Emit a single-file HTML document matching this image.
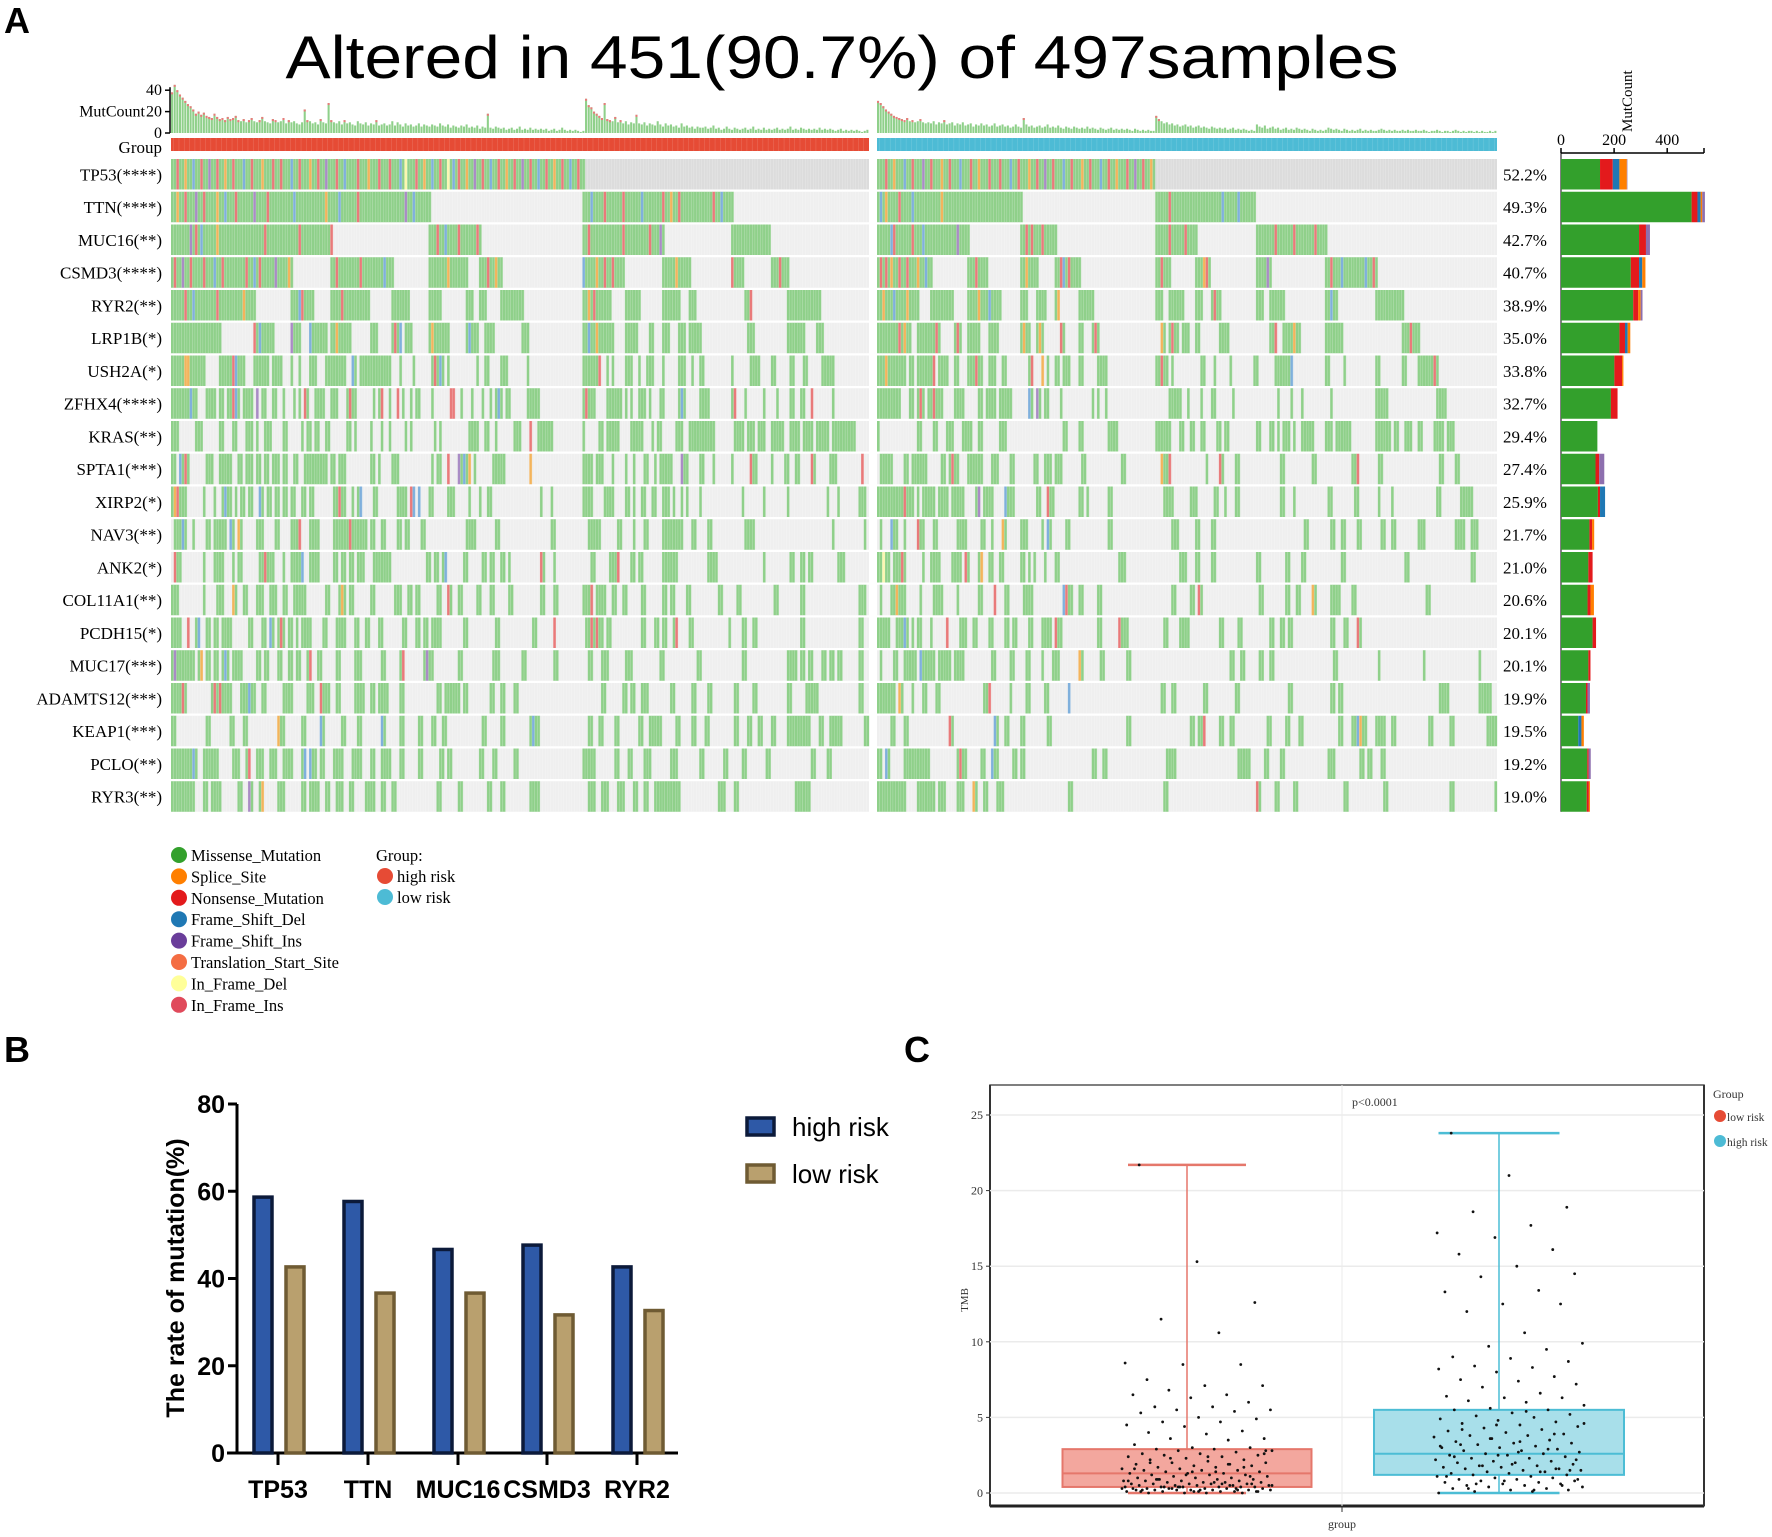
<!DOCTYPE html>
<html><head><meta charset="utf-8"><style>
html,body{margin:0;padding:0;background:#fff;}
svg{display:block;}
</style></head><body>
<svg id="fig" width="1772" height="1537" viewBox="0 0 1772 1537" xmlns="http://www.w3.org/2000/svg" font-family="Liberation Serif, serif">
<text x="4" y="33" font-family="Liberation Sans, sans-serif" font-weight="bold" font-size="36">A</text>
<text x="842" y="78" text-anchor="middle" font-family="Liberation Sans, sans-serif" font-size="60" textLength="1113" lengthAdjust="spacingAndGlyphs">Altered in 451(90.7%) of 497samples</text>
<text x="4" y="1062" font-family="Liberation Sans, sans-serif" font-weight="bold" font-size="36">B</text>
<text x="904" y="1062" font-family="Liberation Sans, sans-serif" font-weight="bold" font-size="36">C</text>
<g id="onco"></g>
<g id="barB"></g>
<g id="boxC"></g>
</svg>
<script>
// ===== Panel A data =====
const highCount = [38,45,40,36,33,30,27,25,22,18,20,17,19,16,15,14,18,15,13,14,
12,15,13,14,16,12,11,13,10,12,14,11,10,12,15,11,10,9,13,12,
10,11,14,9,12,10,11,9,8,10,22,12,11,9,10,8,13,10,9,28,
12,10,9,11,8,12,9,10,8,7,11,9,8,10,7,9,8,12,7,8,
9,7,8,11,7,10,8,6,9,7,8,6,7,9,6,8,7,6,8,7,
6,9,7,6,8,5,7,6,5,7,6,8,5,6,5,7,4,6,5,18,
5,4,6,5,4,5,3,4,5,3,4,6,3,4,3,5,3,4,3,4,
3,4,2,3,4,2,3,5,3,2,3,2,3,2,1,2,
32,26,24,20,18,16,14,28,13,12,11,15,10,12,9,11,8,10,9,17,
9,8,10,7,9,8,7,11,8,6,9,7,8,6,7,5,9,6,7,5,6,4,6,5,
5,6,4,5,7,4,5,3,4,6,4,3,5,4,3,4,5,3,4,6,3,4,3,5,3,4,3,4,5,3,
4,3,4,6,3,4,3,5,4,3,4,3,4,3,5,3,4,3,4,3,2,3,4,2,3,2,3,2,3,2,1,2,3];
const lowCount = [30,28,25,22,20,18,16,15,14,13,12,14,11,12,10,11,13,10,9,10,
9,11,8,10,9,12,8,9,10,7,9,8,10,7,8,9,6,8,7,9,
7,8,6,7,9,6,7,8,6,7,5,6,8,6,5,
14,8,6,7,5,6,7,5,6,8,5,6,5,7,5,4,6,5,4,6,5,4,5,4,6,
4,5,4,3,5,4,3,4,5,3,4,3,4,3,4,3,2,4,3,2,3,2,3,2,2,
16,13,11,9,10,8,9,7,8,6,7,8,6,7,5,6,7,5,6,5,4,6,5,4,5,
4,5,3,4,5,3,4,3,4,3,2,3,2,
8,6,5,7,4,5,6,4,5,3,4,5,3,4,3,5,4,3,4,3,2,4,3,2,3,2,3,
5,4,3,4,3,2,4,3,2,3,2,3,4,2,3,2,3,2,2,3,4,3,2,3,2,3,2,2,3,2,
3,2,2,3,2,2,3,2,1,2,2,3,2,1,2,2,1,2,3,2,1,2,1,2,2,1,2,1,2,1,1,2,1,2];
const genes = ['TP53(****)','TTN(****)','MUC16(**)','CSMD3(****)','RYR2(**)','LRP1B(*)','USH2A(*)','ZFHX4(****)','KRAS(**)','SPTA1(***)','XIRP2(*)','NAV3(**)','ANK2(*)','COL11A1(**)','PCDH15(*)','MUC17(***)','ADAMTS12(***)','KEAP1(***)','PCLO(**)','RYR3(**)'];
const pctLabels = ['52.2%','49.3%','42.7%','40.7%','38.9%','35.0%','33.8%','32.7%','29.4%','27.4%','25.9%','21.7%','21.0%','20.6%','20.1%','20.1%','19.9%','19.5%','19.2%','19.0%'];
const mutHigh = [
"0-155",
"0-97,155-211",
"0-60,97-116,155-185,211-225",
"0-45,60-83,97-111,116-124,155-170,185-195,211-215,226-232",
"0-31,45-53,60-74,83-89,97-101,111-113,116-118,124-132,155-165,171-176,185-191,195-197,216-218,232-244",
"0-18,31-38,45-48,52-58,60-67,75-77,83-86,88-90,97-104,111-115,118-121,132-134,155-166,171-175,180-181,185-187,191-193,195-199,217-219,232-238,243-245",
"0-12,18-27,31-36,38-41,45,48,52-54,58-59,60-65,68-69,71-74,75-77,78-82,86,91,98-102,104,115,118-119,124-126,134,155-161,164,166,171-173,176,179-181,185,191-193,196,199-200,211,218-221,226-227,233-234,238-239,245-249",
"0-7,8-9,13-16,18-19,21-25,27-30,32,34-35,38-39,42,46,48,50-51,54-57,60-62,66-69,76,78-79,82,85,87,90,92-93,98,105-106,109,113,117,120,122-124,126-127,134-138,155-159,164-169,171,173,176-178,180,184-185,191-193,199-202,211-212,216,223,228,233-234,237-238,241,249",
"0-2,9-11,18-19,23-24,28-30,32,35-37,42-43,49,51-52,54-55,58-59,66-67,69,75,79,82,88,90,99,101,112-115,118-119,122,129-131,135,138-143,155,161-162,164-166,167-168,173-177,181,183-184,190-192,195-196,197-199,200-204,212-215,217-219,221-223,226-230,233-236,238-241,243-247,249-257",
"0-1,3-4,5-6,13-15,18-22,25-26,28-30,32-33,35-36,38-40,42-43,46-47,50-51,52-58,60-61,63-65,75-76,78,83-85,98,100-101,104,108-112,114,121-125,135,155-158,160-162,166,171,174,178-179,182,184-186,187-188,192-194,199-200,204,211,218-220,226,231-232,235-236,241-242,248-250,260",
"0-5,12,16,19-22,24,26-27,29-30,33-34,36-37,39-40,42-43,45-46,49-50,52-53,61-65,68,70-71,76-77,85-88,90-91,93,97-98,104-106,112,116,119-120,139,143,155-158,163-166,171-172,174,177-178,181-182,185-187,189,192,194,199,215,223,232,247,251,259-261",
"1-5,8,13-14,16-17,18-20,22-23,25-26,32-34,39-40,45-48,52-53,54-55,61-62,63-64,65-67,68-73,75-76,79-80,85-86,88-89,94-95,111-114,122-123,143-144,157-161,168-169,174,178-179,185-190,191-192,196-197,202-203,216-217,218-219,249,261",
"1-3,12,16-19,23,25-26,33-34,35-38,42,45-49,52-53,54-55,61-62,64-65,67-68,70-72,76-82,96-97,99-100,102-103,110-111,117-118,120-121,124-125,127,139-140,144,158-159,165-166,167-168,173-174,176-177,185-190,202-205,223,233-234,237-238,240-241,251-253",
"0-2,12,17-19,23-24,27-28,32-34,37-39,42-43,46-50,58-59,63-65,67-68,75-76,84-86,89-90,92-93,100-101,104-105,108-109,115-116,120-121,127-128,139-140,144-145,155-158,160-163,166-167,170-171,177-178,185-186,188-189,194-195,206-207,213-214,227-228,237-238,259-261",
"0-3,6,9-10,13-14,16-17,19-22,29-30,34-35,37-38,40,41-42,44-45,47,49-50,51-52,57-58,62-65,69-70,73-74,78-79,87-88,92-93,95-96,98-99,100-101,110-111,122-123,136-137,144,156-162,164-165,177-178,182-183,185-186,189-190,195-196,210,215-216,219-220,237-238,259-260",
"0-6,7-8,10-11,13-14,16-17,19-21,23-26,32-33,35-36,40-41,44-45,47-48,51-52,55-56,62-63,69-71,79-80,86-87,95-98,108-109,121-123,132-133,144-145,157-158,162-164,171-173,184-185,198-199,215-216,232-235,237-238,240-241,245-246,248-249,251-252,259-260",
"0-5,15-17,18-22,26-27,28-31,34-35,42-45,51-53,56-57,58-59,62-63,69-70,71-72,75-76,78-79,80-81,86-87,100-101,103-104,105-108,110-111,120-121,124-125,129-130,162-163,170-171,173-174,177-179,188-189,196-197,202-203,212-213,219-220,232-233,239-243,259-260",
"0-1,13-14,22-23,27-28,40-42,49-50,56-57,64-65,70-71,79-80,86-87,93-94,98-99,102-103,117-118,124-125,135-138,157-158,161-162,167-168,176-177,180-184,190-191,196-197,201-202,212-213,217-218,221-222,226-227,232-240,244-245,248-252,261-262",
"0-5,6-7,8-9,12-17,23-25,28-29,32-34,37-39,42-45,49-50,52-54,56-57,61-64,68-71,75-76,79-80,81-82,86-87,93-94,101-102,104-105,116-117,121-122,129-130,155-159,167-168,172-173,178-180,188-190,199-200,208-209,215-216,224-225,241-242,247-248",
"0-5,6-8,12-13,15-18,25-26,29-30,33-34,40-42,49-50,52-53,54-55,58-59,62-64,67-68,73-74,75-76,79-80,83-84,100-101,108-109,119-120,124-125,135-136,137-138,157-159,162-164,168-170,174-175,178-179,182-191,206-208,212-213,235-240"];
const mutLow = [
"0-104",
"0-54,105-142",
"0-34,54-67,105-120,143-169",
"0-20,34-41,54-60,67-76,105-110,120-125,143-148,169-188",
"0-15,20-28,34-41,42-46,54-56,60-63,67-68,76-81,105-107,110-115,120-122,126-129,143-145,148-153,169-173,188-198",
"0-12,15-19,20-23,29-31,34-38,42-45,54-57,60-62,69-70,76-77,81-83,107-108,110-113,115-117,120-121,129-132,148-150,153-159,169-172,173-175,198-204",
"0-10,12-13,15-21,23-26,29-30,34-39,42-44,47-48,57-58,62,64,67-68,70-72,76-77,83-86,105-109,111,122-123,127,133,142-143,150-156,169-170,176,188-189,198-199,204-211",
"0-8,12-13,15-17,19-24,29-30,31-32,38-39,41-44,46-50,57-58,60-61,63-64,69,81,83,86,110-114,117,122,126-127,134,151,156,160,171,188-192,211-214",
"0,15-16,21-22,26-28,32-35,38-39,46,47-48,70-71,76-77,87-90,105-110,114-115,118-119,122-123,128-129,131-132,143-144,148-149,151,153-155,157,160-164,169-171,173-175,176-178,188-193,195-196,199-201,204-205,210-213,215-217",
"1-5,10-11,13-14,15-18,24-25,27-30,34-35,36-37,38-39,43-45,50-51,59-60,63-65,67-69,77-78,92-93,107-108,109-110,124,129-130,135-136,152-153,164-165,179-181,189-190,212-213,218-219",
"0-10,11-12,13,15,17,18-19,20-21,23-24,25-26,28-29,30-32,37-38,40-41,42-43,48-51,60-61,64-66,76-77,79,87-88,108-111,118-120,127-128,131,135-136,152-153,157,170-171,180-181,189,194,211-212,220-224",
"1,5-7,10,15-17,21-22,30-31,32-33,39-40,43,47-48,54-56,62,64-65,71-72,87-88,111-113,120-121,126-127,161-162,171-172,175-176,181-182,190-191,194-195,204-206,218-221,224-226",
"0-4,6-10,17,20-23,28-29,30-31,33-34,38-39,42-43,46-47,54-55,57,59,63,67-68,91-93,114-116,120-121,126-127,143-144,154-155,160-161,175-176,199-200,224-225",
"1,5-10,16,21-22,23-24,30,38-39,44,48-49,55-56,57-58,70-73,76-77,83-84,111-112,118-119,121-122,144-145,154-155,158-159,164-165,171-172,173-174,179-180,207-208",
"0-4,7-9,10-11,13,15-16,20,26,31-33,36-37,42-43,48-49,51-52,57-58,62-63,64-65,67-69,83-84,91-92,93-94,108-109,114-115,116-117,129-130,136-137,148-149,152-153,155-156,171-172,176-177,181-182",
"1,6-7,10-12,13-14,16-17,18-19,20-21,23-24,25-26,27,29-32,43-44,50-51,56-57,62,66-68,76-77,84-85,94-95,133-134,137-138,144-145,148-149,172-173,189,206,227",
"0-4,5-6,8-9,13,17-18,22-23,40-42,50,56-57,63-64,72,107-108,111-112,123-124,135-136,155-156,171-172,174-175,212-213,214-215,227-231",
"5-6,10-11,27-28,44-45,48-49,54-55,64-65,94-95,118-119,121-123,129-130,133-134,147-148,154-155,159-160,174-175,179-180,181-184,188-189,190-191,194-195,208-209,216-217,230-233",
"0-1,3-4,10-11,12-19,30-31,32-33,39-40,43-45,51-52,54-55,81-82,85-86,109-110,111-112,136-140,146-147,152-153,170-172,182-183,185-186,190-191",
"0-10,15-17,18-19,20-21,23-25,30-32,36-37,40-41,45-47,72-73,108-109,143-144,150-151,157-158,176-177,191-192,216-217,233"];
const otherHigh = [
"2r,5o,8b,11r,14p,17r,20o,23r,27b,30r,34o,38r,41r,45b,48r,52o,55r,58p,62r,65b,70r,74o,78r,82r,86b,88y,92r,95o,98b,101r,104y,106b,108r,111o,114p,117r,120b,123r,126o,129r,132p,135r,138b,141r,144o,147r,150b,153r",
"2o,5r,9p,12r,17o,20b,24r,31p,36r,46b,58o,63b,70r,88p,91b,158b,163r,170r,177b,185r,188o,191r,204r,207b",
"7p,9r,11b,17o,35r,48r,60r,100r,103b,108r,115r,157r,170r,180r,184p",
"1r,4p,7r,12r,16b,19r,28r,31b,33r,39p,44o,62r,71r,80b,104o,119r,122o,155b,160o,163r,166r,183r,190o,211r,229r",
"5r,8b,17r,27o,48b,49r,64r,157o,159r,166b,218r",
"31r,33b,45p,52b,62o,84r,86b,98o,107r,112b,157b,160o",
"5o,6o,23r,24b,66r,68b,85r,99r,101b,161r,215r",
"7b,23r,24b,32p,37r,50r,67r,79r,80r,85r,105r,106r,123b,156r,192b,212r,241r",
"135r",
"3b,5r,79o,104r,108p,110b,112o,135o,192p,218r,241r,260r",
"1o,2r,20b,33b,63r,71b,90r,91b,93b",
"4b,22b,25o,48r,67r",
"1r,35r,49b,103b,139r,168r",
"23o,64o,104r,106o,158r,165r,183o",
"6r,10b,37b,41r,144r,158r,160r,190r",
"1p,11o,20b,52r,87r,96p",
"4r,16r,18r,29b,36p,56r,60b",
"40o,56b,79b,136b,155b",
"8b,29r,50b,52b",
"29p,34o,102o,117o"];
const otherLow = [
"3r,6o,10b,13r,17p,20r,24o,27r,31b,35r,38o,42r,46r,50b,53r,57o,60r,63p,66r,70b,73r,77o,80r,84b,87r,90o,94r,97p,100r,103o",
"1b,3o,8r,13b,24o,110r,130b,136b",
"5b,6r,13r,17b,30p,56r,58r,62r,110r,116r,150r,157r,165r",
"1r,3r,5o,8r,11r,15o,18b,37r,56o,69r,70b,72r,107r,123o,124r,147p,171r,175b,184b,187r",
"2o,6b,11o,38o,42b,68o,127r,171b",
"8r,10o,22r,30r,55o,61o,69r,82r,107o,111r,150r,157o,201r",
"3o,21r,37r,45o,58r,62o,107r,156b,210r",
"9r,16r,21r,57b,60p,187r",
"",
"7r,28r,33o,62r,107o,110r,129r,181r",
"10r,38p,48b,64r",
"5b,15r,47o,64b,170o",
"2y,9r,33r,39o",
"7o,44r,70b,71r,121r,164o",
"10b,26r,67r,91r,181r",
"16b,45r,76o",
"8o,42r,72b,110r,222r",
"27r,44b,123r,181b,182o,205r",
"3b,31r,43b,53r,176r,188o",
"36o,143r"];
const barMissense = [147,492,294,263,272,220,201,188,137,130,139,107,103,100,119,103,94,65,99,97];
const barNonsense = [48,22,26,31,19,21,29,25,0,14,8,10,16,11,13,8,6,0,5,8];
const barFrameDel = [25,12,0,12,0,10,0,0,0,0,19,0,0,0,0,0,0,12,0,0];
const barSplice   = [28,6,0,12,9,10,5,0,0,0,0,8,0,13,0,0,0,9,0,4];
const barOtherType= [2,10,15,0,7,0,0,0,0,19,0,0,0,0,0,0,9,0,8,0];
const mutTicks = [0,200,400];
const countTicks = [0,20,40];
const legendTypes = ['Missense_Mutation','Splice_Site','Nonsense_Mutation','Frame_Shift_Del','Frame_Shift_Ins','Translation_Start_Site','In_Frame_Del','In_Frame_Ins'];
const legendColors = ['#33a02c','#ff7f00','#e31a1c','#1f78b4','#6a3d9a','#f46d43','#ffff99','#e04a5b'];

// ===== Panel B data =====
const bCategories = ['TP53','TTN','MUC16','CSMD3','RYR2'];
const bHigh = [59,58,47,48,43];
const bLow = [43,37,37,32,33];
const bTicks = [0,20,40,60,80];

// ===== Panel C data =====
const tmbLowRisk = [21.7,15.3,12.6,11.5,10.6,8.6,8.5,8.5,7.5,7.1,7.1,6.8,6.5,6.5,6.3,6.0,5.7,5.7,5.5,5.5,5.4,5.3,5.0,4.9,4.7,4.7,4.5,4.4,4.1,4.0,3.9,3.6,3.6,3.5,3.2,3.0,3.0,2.9,2.9,2.8,2.8,2.7,2.6,2.6,2.5,2.5,2.4,2.4,2.3,2.2,2.2,2.1,2.0,2.0,1.9,1.9,1.8,1.8,1.7,1.7,1.6,1.6,1.5,1.5,1.5,1.4,1.4,1.3,1.3,1.3,1.2,1.2,1.2,1.1,1.1,1.0,1.0,1.0,0.9,0.9,0.9,0.8,0.8,0.8,0.8,0.7,0.7,0.7,0.7,0.6,0.6,0.6,0.6,0.6,0.5,0.5,0.5,0.5,0.5,0.4,0.4,0.4,0.4,0.4,0.4,0.3,0.3,0.3,0.3,0.3,0.3,0.2,0.2,0.2,0.2,0.2,0.2,0.1,0.1,0.1,0.1,0.1,0.1,0.1,0.0,0.0,0.0,0.0,2.6,2.3,1.9,1.6,1.4,1.1,0.9,0.7,0.5,0.4,0.3,0.2,0.2,0.1,0.4,0.6,0.8,1.2,1.7,2.0,2.4,2.8,0.3,0.5,0.2,0.1,0.6,0.9,1.4,0.3,0.4,0.2];
const tmbHighRisk = [23.8,21.0,18.9,18.6,17.7,17.2,16.9,16.1,15.8,15.0,14.5,14.3,13.4,13.3,12.5,12.5,12.0,10.6,9.9,9.7,9.5,9.0,8.9,8.7,8.4,8.3,8.2,8.0,7.7,7.5,7.4,7.2,7.0,6.6,6.4,6.3,6.3,6.1,6.0,5.8,5.6,5.5,5.5,5.3,5.2,5.1,5.0,4.9,4.8,4.7,4.6,4.5,4.4,4.3,4.2,4.1,4.0,3.9,3.8,3.8,3.7,3.6,3.5,3.4,3.3,3.3,3.2,3.1,3.0,3.0,2.9,2.8,2.8,2.7,2.6,2.6,2.5,2.5,2.4,2.3,2.3,2.2,2.1,2.1,2.0,2.0,1.9,1.8,1.8,1.7,1.7,1.6,1.6,1.5,1.5,1.4,1.4,1.3,1.3,1.2,1.2,1.1,1.1,1.0,1.0,0.9,0.9,0.8,0.8,0.7,0.7,0.6,0.6,0.5,0.5,0.4,0.4,0.3,0.3,0.2,0.2,0.1,0.1,0.0,4.5,3.9,3.2,2.7,2.2,1.8,1.4,1.1,0.8,0.5,0.3,5.4,4.6,3.6,2.9,2.4,1.9,1.5,0.6,0.2,3.1,2.5,1.6,4.2,3.4,0.9];
const cBoxLow = {min:0, q1:0.4, med:1.3, q3:2.9, max:21.7};
const cBoxHigh = {min:0, q1:1.2, med:2.6, q3:5.5, max:23.8};
const cTicks = [0,5,10,15,20,25];
</script>
<script>
const NS='http://www.w3.org/2000/svg';
function mk(tag, attrs, parent, txt){
  const e=document.createElementNS(NS,tag);
  for(const k in attrs) e.setAttribute(k,attrs[k]);
  if(txt!==undefined) e.textContent=txt;
  parent.appendChild(e); return e;
}
const typeColor={g:'#8fd08a',r:'#e97a7a',o:'#f3b45c',b:'#7fb0dc',p:'#a98cc5',y:'#fbf7b0'};
function parseRanges(s){const out=[];if(!s)return out;s.split(',').forEach(t=>{const p=t.split('-');const a=+p[0],b=p.length>1?+p[1]:a;for(let i=a;i<=b;i++)out.push(i);});return out;}
function parseOther(s){const m={};if(!s)return m;s.split(',').forEach(t=>{m[parseInt(t)]=t.replace(/[0-9]/g,'');});return m;}

// ---------- Panel A ----------
(function(){
  const g=document.getElementById('onco');
  const groups=[{x0:171,x1:869,counts:highCount,muts:mutHigh,other:otherHigh,col:'#e64b35',name:'high'},
                {x0:877,x1:1497,counts:lowCount,muts:mutLow,other:otherLow,col:'#4dbbd5',name:'low'}];
  const rowTop=159, rowH=32.75, cellH=30.5;
  const cBase=133, cScale=1.07;
  const ax=mk('g',{},g);
  
  
  mk('line',{x1:170,y1:cBase-countTicks[countTicks.length-1]*cScale-3,x2:170,y2:cBase,stroke:'#000','stroke-width':1.5},ax);
  countTicks.forEach(t=>{
    const y=cBase-t*cScale;
    mk('line',{x1:165,y1:y,x2:170,y2:y,stroke:'#000','stroke-width':1.5},ax);
    const tl=mk('text',{x:162,y:y+5,'text-anchor':'end','font-size':16},ax,String(t));
    
    
  });
  const mcl=mk('text',{x:145,y:cBase-20*cScale+5,'text-anchor':'end','font-size':16},g,'MutCount');
  
  
  const gl=mk('text',{x:162,y:153,'text-anchor':'end','font-size':17},g,'Group');
  
  

  groups.forEach(G=>{
    const n=G.counts.length, sw=(G.x1-G.x0)/n;
    const cb=mk('g',{},g);
    
    
    G.counts.forEach((v,i)=>{
      const h=v*cScale;
      const r=mk('rect',{x:G.x0+i*sw,y:cBase-h,width:Math.max(sw-0.6,0.8),height:h,fill:'#8fd08a'},cb);
      
      
      if(v>=12) mk('rect',{x:G.x0+i*sw,y:cBase-h,width:Math.max(sw-0.6,0.8),height:2,fill:'#e97a7a'},cb);
    });
    const gb=mk('rect',{x:G.x0,y:138,width:G.x1-G.x0,height:13,fill:G.col},g);
    
    
    for(let i=1;i<n;i+=2) mk('line',{x1:G.x0+i*sw,y1:138,x2:G.x0+i*sw,y2:151,stroke:'rgba(255,255,255,0.18)','stroke-width':0.6},g);
    genes.forEach((gn,ri)=>{
      const y=rowTop+ri*rowH;
      const rg=mk('g',{},g);
      
      
      mk('rect',{x:G.x0,y:y,width:G.x1-G.x0,height:cellH,fill:ri===0?'#dcdcdc':'#efefef'},rg);
      const om=parseOther(G.other[ri]);
      parseRanges(G.muts[ri]).forEach(si=>{
        if(si>=n) return;
        const t=om[si]||'g';
        const c=mk('rect',{x:G.x0+si*sw,y:y,width:sw+0.15,height:cellH,fill:typeColor[t]},rg);
        
        
      });
      let d='';
      for(let i=1;i<n;i++){const xx=(G.x0+i*sw).toFixed(2);d+='M'+xx+' '+y+'v'+cellH;}
      mk('path',{d:d,stroke:'rgba(255,255,255,0.35)','stroke-width':0.5,fill:'none'},rg);
    });
  });
  genes.forEach((gn,ri)=>{
    const y=rowTop+ri*rowH+cellH/2+6;
    const t=mk('text',{x:162,y:y,'text-anchor':'end','font-size':17},g,gn);
    
    
    const p=mk('text',{x:1503,y:y,'font-size':17},g,pctLabels[ri]);
    
    
  });
  const bx0=1561, bsc=0.2655, axY=153;
  const rb=mk('g',{},g);
  
  
  mk('line',{x1:bx0,y1:axY,x2:1704,y2:axY,stroke:'#000','stroke-width':1.5},rb);
  mk('line',{x1:1704,y1:axY,x2:1704,y2:axY-5,stroke:'#000','stroke-width':1.5},rb);
  mk('line',{x1:bx0,y1:axY,x2:bx0,y2:rowTop+19*rowH+cellH,stroke:'#000','stroke-width':1},rb);
  mutTicks.forEach(t=>{
    const x=bx0+t*bsc;
    mk('line',{x1:x,y1:axY,x2:x,y2:axY-5,stroke:'#000','stroke-width':1.5},rb);
    const tl=mk('text',{x:x,y:axY-8,'text-anchor':'middle','font-size':16},rb,String(t));
    
    
  });
  const mt=mk('text',{x:0,y:0,'font-size':15,transform:'translate(1632,132) rotate(-90)'},rb,'MutCount');
  
  
  const series=[[barMissense,'#33a02c'],[barNonsense,'#e31a1c'],[barFrameDel,'#1f78b4'],[barSplice,'#ff7f00'],[barOtherType,'#8d6fae']];
  genes.forEach((gn,ri)=>{
    const y=rowTop+ri*rowH; let acc=0;
    series.forEach(([arr,col])=>{
      const v=arr[ri]; if(!v) return;
      const r=mk('rect',{x:bx0+acc*bsc,y:y,width:v*bsc,height:cellH,fill:col},rb);
      
      
      acc+=v;
    });
  });
  const lg=mk('g',{},g);
  
  
  legendTypes.forEach((t,i)=>{
    const y=856+i*21.4;
    mk('circle',{cx:179,cy:y-1,r:8,fill:legendColors[i]},lg);
    const tx=mk('text',{x:191,y:y+5,'font-size':16.5},lg,t);
    
    
  });
  const lg2=mk('g',{},g);
  
  
  mk('text',{x:376,y:861,'font-size':16.5},lg2,'Group:');
  mk('circle',{cx:385,cy:876,r:8,fill:'#e64b35'},lg2);
  mk('text',{x:397,y:882,'font-size':16.5},lg2,'high risk');
  mk('circle',{cx:385,cy:897,r:8,fill:'#4dbbd5'},lg2);
  mk('text',{x:397,y:903,'font-size':16.5},lg2,'low risk');
})();

// ---------- Panel B ----------
(function(){
  const g=document.getElementById('barB');
  const x0=237, y0=1453, yTop=1104, xEnd=678, sc=(y0-yTop)/80;
  const catX=[278,368,458,547,637];
  const Y=v=>y0-v*sc;
  const F='Liberation Sans Narrow, Liberation Sans, sans-serif';
  mk('line',{x1:x0,y1:yTop,x2:x0,y2:y0,stroke:'#000','stroke-width':3},g);
  mk('line',{x1:x0-10,y1:y0,x2:xEnd,y2:y0,stroke:'#000','stroke-width':3},g);
  bTicks.forEach(t=>{
    mk('line',{x1:x0-9,y1:Y(t),x2:x0,y2:Y(t),stroke:'#000','stroke-width':3},g);
    const l=mk('text',{x:x0-12,y:Y(t)+9,'text-anchor':'end','font-size':25,'font-weight':'bold','font-family':F},g,String(t));
    
    
  });
  bCategories.forEach((c,i)=>{
    const cx=catX[i];
    mk('line',{x1:cx,y1:y0,x2:cx,y2:y0+12,stroke:'#000','stroke-width':3},g);
    const l=mk('text',{x:cx,y:y0+45,'text-anchor':'middle','font-size':25,'font-weight':'bold','font-family':F},g,c);
    
    
    const bh=mk('rect',{x:cx-24,y:Y(bHigh[i])+1.5,width:18,height:y0-Y(bHigh[i])-1.5,fill:'#2e59a7',stroke:'#0c1a3a','stroke-width':3.5},g);
    
    
    const bl=mk('rect',{x:cx+8,y:Y(bLow[i])+1.5,width:18,height:y0-Y(bLow[i])-1.5,fill:'#b9a06e',stroke:'#6f5b33','stroke-width':3.5},g);
    
    
  });
  const yt=mk('text',{x:0,y:0,'font-size':25,'font-weight':'bold','font-family':'Liberation Sans, sans-serif','text-anchor':'middle',transform:'translate(184,1278) rotate(-90)'},g,'The rate of mutation(%)');
  
  
  const lg=mk('g',{},g);
  
  
  mk('rect',{x:747,y:1118,width:27,height:17,fill:'#2e59a7',stroke:'#0c1a3a','stroke-width':3.5},lg);
  mk('text',{x:792,y:1136,'font-size':26,'font-family':F},lg,'high risk');
  mk('rect',{x:747,y:1165,width:27,height:17,fill:'#b9a06e',stroke:'#6f5b33','stroke-width':3.5},lg);
  mk('text',{x:792,y:1183,'font-size':26,'font-family':F},lg,'low risk');
})();

// ---------- Panel C ----------
(function(){
  const g=document.getElementById('boxC');
  const L=990,R=1704,T=1085,B=1506;
  const y0=1493, y25=1115, sc=(y0-y25)/25;
  const Y=v=>y0-v*sc;
  mk('rect',{x:L,y:T,width:R-L,height:B-T,fill:'#fff',stroke:'#555','stroke-width':1.5},g);
  mk('line',{x1:L,y1:B,x2:R,y2:B,stroke:'#222','stroke-width':3},g);
  mk('line',{x1:L,y1:T,x2:L,y2:B,stroke:'#333','stroke-width':2},g);
  mk('line',{x1:R,y1:T,x2:R,y2:B,stroke:'#333','stroke-width':2},g);
  cTicks.forEach(t=>{
    mk('line',{x1:L,y1:Y(t),x2:R,y2:Y(t),stroke:'#ebebeb','stroke-width':1.5},g);
    mk('line',{x1:L-4,y1:Y(t),x2:L,y2:Y(t),stroke:'#333','stroke-width':1},g);
    const l=mk('text',{x:L-7,y:Y(t)+4,'text-anchor':'end','font-size':12,fill:'#333'},g,String(t));
    
    
  });
  mk('line',{x1:1342,y1:T,x2:1342,y2:B,stroke:'#ebebeb','stroke-width':1},g);
  mk('line',{x1:1342,y1:B,x2:1342,y2:B+6,stroke:'#333','stroke-width':1},g);
  const grps=[{cx:1187,bw:249,cap:118,box:cBoxLow,vals:tmbLowRisk,fill:'#f3a79e',st:'#e5776b',name:'low-risk'},
              {cx:1499,bw:250,cap:121,box:cBoxHigh,vals:tmbHighRisk,fill:'#a8dfea',st:'#4cbdd5',name:'high-risk'}];
  grps.forEach(G=>{
    const b=G.box;
    const bg=mk('g',{},g);
    
    
    mk('line',{x1:G.cx,y1:Y(b.max),x2:G.cx,y2:Y(b.q3),stroke:G.st,'stroke-width':1.5},bg);
    mk('line',{x1:G.cx,y1:Y(b.q1),x2:G.cx,y2:Y(b.min),stroke:G.st,'stroke-width':1.5},bg);
    mk('line',{x1:G.cx-G.cap/2,y1:Y(b.max),x2:G.cx+G.cap/2,y2:Y(b.max),stroke:G.st,'stroke-width':2.5},bg);
    mk('line',{x1:G.cx-G.cap/2,y1:Y(b.min),x2:G.cx+G.cap/2,y2:Y(b.min),stroke:G.st,'stroke-width':2.5},bg);
    mk('rect',{x:G.cx-G.bw/2,y:Y(b.q3),width:G.bw,height:Y(b.q1)-Y(b.q3),fill:G.fill,stroke:G.st,'stroke-width':2},bg);
    mk('line',{x1:G.cx-G.bw/2,y1:Y(b.med),x2:G.cx+G.bw/2,y2:Y(b.med),stroke:G.st,'stroke-width':2},bg);
    G.vals.forEach((v,i)=>{
      const jit=((i*37+11)%97)/96-0.5;
      const d=mk('circle',{cx:G.cx+10+jit*150,cy:Y(v),r:1.4,fill:'#111'},bg);
      
      
    });
  });
  const p=mk('text',{x:1352,y:1106,'font-size':12,fill:'#333'},g,'p<0.0001');
  
  
  const yt=mk('text',{x:0,y:0,'font-size':11,'text-anchor':'middle',transform:'translate(968,1300) rotate(-90)',fill:'#333'},g,'TMB');
  
  
  const xt=mk('text',{x:1342,y:1528,'font-size':12,'text-anchor':'middle',fill:'#333'},g,'group');
  
  
  const lg=mk('g',{},g);
  
  
  mk('text',{x:1713,y:1098,'font-size':12,fill:'#333'},lg,'Group');
  mk('circle',{cx:1720,cy:1116,r:6,fill:'#e64b35'},lg);
  mk('text',{x:1727,y:1121,'font-size':11.5,fill:'#333'},lg,'low risk');
  mk('circle',{cx:1720,cy:1141,r:6,fill:'#4dbbd5'},lg);
  mk('text',{x:1727,y:1146,'font-size':11.5,fill:'#333'},lg,'high risk');
})();
</script>
</body></html>
